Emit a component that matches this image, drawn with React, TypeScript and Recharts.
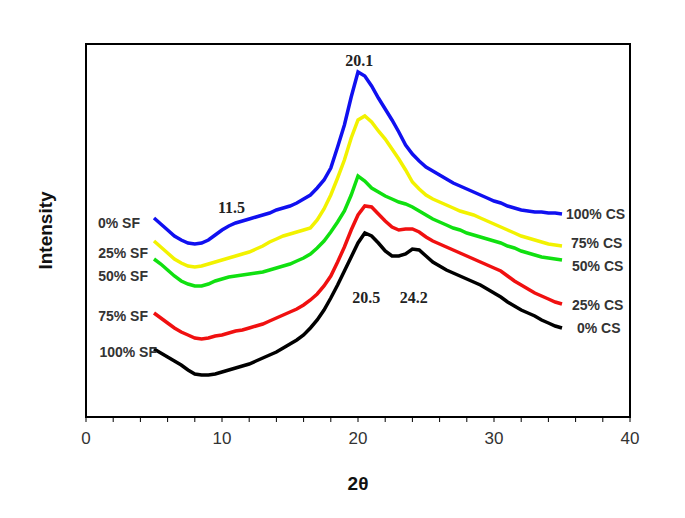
import React from 'react';
import {
  LineChart,
  Line,
  XAxis,
  YAxis,
  ReferenceArea,
  ReferenceDot,
} from 'recharts';

// 2-theta positions (deg) and intensities (a.u.)
const twoTheta = [
  5, 5.5, 6, 6.5, 7, 7.5, 8, 8.5, 9, 9.5, 10, 10.5, 11, 11.5, 12, 12.5, 13, 13.5, 14, 14.5,
  15, 15.5, 16, 16.5, 17, 17.5, 18, 18.5, 19, 19.5, 20, 20.5, 21, 21.5, 22, 22.5, 23, 23.5,
  24, 24.5, 25, 25.5, 26, 26.5, 27, 27.5, 28, 28.5, 29, 29.5, 30, 30.5, 31, 31.5, 32, 32.5,
  33, 33.5, 34, 34.5, 35,
];

const cs100 = [
  199, 193, 187, 181, 177, 174, 173, 174, 177, 182, 187, 191, 194, 196, 198, 200, 202, 204, 207, 209,
  211, 214, 218, 222, 229, 237, 249, 270, 292, 320, 345, 341, 331, 319, 308, 297, 285, 272,
  263, 256, 250, 246, 242, 238, 234, 231, 228, 225, 222, 219, 216, 214, 211, 209, 207, 206,
  205, 205, 204, 204, 203,
];

const cs75 = [
  176, 170, 164, 158, 154, 151, 150, 151, 153, 155, 157, 159, 161, 163, 165, 168, 171, 175, 178, 181,
  183, 185, 187, 189, 197, 208, 222, 239, 257, 279, 297, 301, 295, 286, 278, 268, 258, 247,
  235, 228, 222, 218, 215, 212, 209, 206, 204, 202, 199, 196, 193, 190, 187, 184, 181, 179,
  177, 175, 173, 172, 171,
];

const cs50 = [
  158, 153, 147, 141, 136, 133, 131, 131, 133, 136, 138, 140, 141, 142, 143, 144, 145, 147, 149, 151,
  153, 156, 159, 163, 169, 176, 185, 195, 206, 222, 241, 236, 229, 225, 221, 218, 215, 213,
  210, 206, 202, 198, 195, 192, 189, 187, 184, 182, 180, 178, 176, 174, 171, 169, 166, 164,
  162, 160, 159, 158, 157,
];

const cs25 = [
  104, 99, 94, 89, 85, 82, 79, 78, 79, 81, 82, 84, 86, 87, 89, 91, 93, 96, 99, 102,
  105, 108, 112, 117, 123, 131, 141, 155, 170, 187, 202, 211, 210, 203, 196, 190, 187, 188,
  188, 185, 180, 176, 173, 170, 167, 164, 161, 158, 155, 152, 149, 146, 141, 136, 132, 128,
  124, 121, 118, 115, 113,
];

const cs0 = [
  68, 64, 60, 56, 52, 47, 43, 42, 42, 43, 45, 47, 49, 51, 53, 56, 59, 62, 65, 69,
  73, 77, 82, 89, 97, 107, 119, 132, 146, 160, 174, 184, 181, 174, 166, 161, 161, 163,
  168, 167, 161, 155, 151, 147, 144, 141, 138, 135, 132, 128, 124, 120, 115, 111, 107, 104,
  101, 97, 94, 91, 89,
];

const xTicks = [0, 2, 4, 6, 8, 10, 12, 14, 16, 18, 20, 22, 24, 26, 28, 30, 32, 34, 36, 38, 40];

const data = twoTheta.map((t, i) => ({
  t,
  cs100: cs100[i],
  cs75: cs75[i],
  cs50: cs50[i],
  cs25: cs25[i],
  cs0: cs0[i],
}));

const series = [
  { key: 'cs100', values: cs100, color: '#1010f0', left: '0% SF', right: '100% CS', lgap: 14, ldy: 5, rgap: 4, rdy: 0 },
  { key: 'cs75', values: cs75, color: '#f2f200', left: '25% SF', right: '75% CS', lgap: 6, ldy: 12, rgap: 9, rdy: -3 },
  { key: 'cs50', values: cs50, color: '#10e010', left: '50% SF', right: '50% CS', lgap: 6, ldy: 17, rgap: 10, rdy: 6 },
  { key: 'cs25', values: cs25, color: '#f01010', left: '75% SF', right: '25% CS', lgap: 6, ldy: 3, rgap: 10, rdy: 1 },
  { key: 'cs0', values: cs0, color: '#000000', left: '100% SF', right: '0% CS', lgap: -3, ldy: 3, rgap: 15, rdy: 0 },
];

// peak annotations: anchored on a series point
const peaks = [
  { text: '20.1', x: 20.1, values: cs100, idx: 30, dx: 0, dy: -12 },
  { text: '11.5', x: 10.7, values: cs100, idx: 12, dx: 0, dy: -16 },
  { text: '20.5', x: 20.6, values: cs0, idx: 31, dx: 0, dy: 64 },
  { text: '24.2', x: 24.1, values: cs0, idx: 38, dx: 0, dy: 48 },
];

const sideLabel = (text: string, anchor: 'start' | 'end', gap: number, dy: number) => (props: any) => {
  const vb = props.viewBox || {};
  const cx = vb.x + (vb.width || 0) / 2;
  const cy = vb.y + (vb.height || 0) / 2;
  return (
    <text
      x={anchor === 'end' ? cx - gap : cx + gap}
      y={cy + dy}
      textAnchor={anchor}
      dominantBaseline="central"
      fontFamily="Arial, 'Liberation Sans', sans-serif"
      fontWeight="bold"
      fontSize={14}
      fill="#333"
    >
      {text}
    </text>
  );
};

const peakLabel = (text: string, dx: number, dy: number) => (props: any) => {
  const vb = props.viewBox || {};
  const cx = vb.x + (vb.width || 0) / 2;
  const cy = vb.y + (vb.height || 0) / 2;
  return (
    <text
      x={cx + dx}
      y={cy + dy}
      textAnchor="middle"
      dominantBaseline="central"
      fontFamily="'Times New Roman', 'Liberation Serif', serif"
      fontWeight="bold"
      fontSize={16}
      fill="#222"
    >
      {text}
    </text>
  );
};

export default function App() {
  const last = twoTheta.length - 1;
  return (
    <div style={{ position: 'absolute', left: 0, top: 0, width: 685, height: 518, background: '#fff' }}>
      <LineChart
        width={685}
        height={518}
        data={data}
        margin={{ top: 44, right: 55, bottom: 21, left: 4 }}
      >
        <XAxis
          dataKey="t"
          type="number"
          domain={[0, 40]}
          ticks={xTicks}
          interval={0}
          height={80}
          tickSize={5}
          tickMargin={10}
          tickFormatter={(v: number) => (v % 10 === 0 ? String(v) : '')}
          axisLine={{ stroke: '#000', strokeWidth: 1.5 }}
          tickLine={{ stroke: '#000', strokeWidth: 1 }}
          tick={{ fill: '#333', fontSize: 17, fontFamily: "Arial, 'Liberation Sans', sans-serif" }}
          label={{
            value: '2θ',
            position: 'insideBottom',
            offset: 7,
            fill: '#111',
            fontSize: 19,
            fontWeight: 'bold',
            fontFamily: "Arial, 'Liberation Sans', sans-serif",
          }}
        />
        <YAxis
          type="number"
          domain={[0, 373]}
          width={82}
          tick={false}
          tickLine={false}
          axisLine={false}
          label={{
            value: 'Intensity',
            angle: -90,
            position: 'center',
            fill: '#111',
            fontSize: 19,
            fontWeight: 'bold',
            fontFamily: "Arial, 'Liberation Sans', sans-serif",
          }}
        />
        <ReferenceArea x1={0} x2={40} y1={0} y2={373} fill="none" stroke="#000" strokeWidth={2} />
        {series.map((s) => (
          <Line
            key={s.key}
            type="linear"
            dataKey={s.key}
            stroke={s.color}
            strokeWidth={3.5}
            dot={false}
            isAnimationActive={false}
          />
        ))}
        {series.map((s) => (
          <ReferenceDot
            key={s.key + '-l'}
            x={twoTheta[0]}
            y={s.values[0]}
            r={1}
            fill="none"
            stroke="none"
            label={{ content: sideLabel(s.left, 'end', s.lgap, s.ldy) }}
          />
        ))}
        {series.map((s) => (
          <ReferenceDot
            key={s.key + '-r'}
            x={twoTheta[last]}
            y={s.values[last]}
            r={1}
            fill="none"
            stroke="none"
            label={{ content: sideLabel(s.right, 'start', s.rgap, s.rdy) }}
          />
        ))}
        {peaks.map((p) => (
          <ReferenceDot
            key={p.text}
            x={p.x}
            y={p.values[p.idx]}
            r={1}
            fill="none"
            stroke="none"
            label={{ content: peakLabel(p.text, p.dx, p.dy) }}
          />
        ))}
      </LineChart>
    </div>
  );
}
